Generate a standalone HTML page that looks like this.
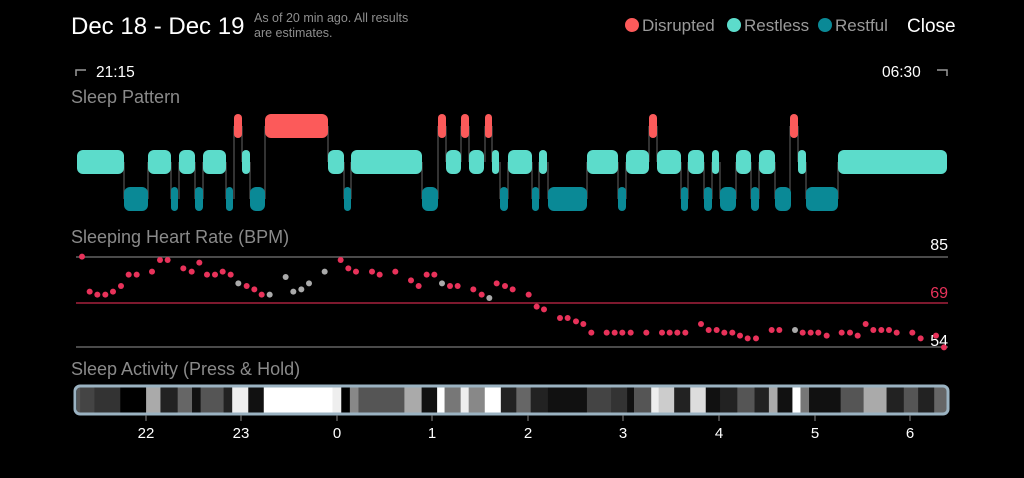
<!DOCTYPE html>
<html><head><meta charset="utf-8"><style>
body{margin:0;background:#000;width:1024px;height:473px;overflow:hidden;font-family:"Liberation Sans",sans-serif}
</style></head><body>
<svg width="1024" height="473" viewBox="0 0 1024 473" xmlns="http://www.w3.org/2000/svg" font-family="Liberation Sans, sans-serif">
<rect width="1024" height="473" fill="#000"/>
<text x="71" y="34" font-size="24" fill="#fff">Dec 18 - Dec 19</text>
<text x="254" y="22" font-size="12.5" fill="#8e8e8e">As of 20 min ago. All results</text>
<text x="254" y="37" font-size="12.5" fill="#8e8e8e">are estimates.</text>
<circle cx="632" cy="25" r="7" fill="#fc5a5a"/><text x="642" y="31" font-size="17" fill="#9a9a9a">Disrupted</text>
<circle cx="734" cy="25" r="7" fill="#5cdccb"/><text x="744" y="31" font-size="17" fill="#9a9a9a">Restless</text>
<circle cx="825" cy="25" r="7" fill="#0a8996"/><text x="835" y="31" font-size="17" fill="#9a9a9a">Restful</text>
<text x="907" y="32" font-size="19" fill="#fff">Close</text>
<path d="M76 76 V70 H86" stroke="#999" stroke-width="1.5" fill="none"/>
<text x="96" y="77" font-size="15.5" fill="#fff">21:15</text>
<text x="882" y="77" font-size="15.5" fill="#fff">06:30</text>
<path d="M937 70 H947 V76" stroke="#999" stroke-width="1.5" fill="none"/>
<text x="71" y="103" font-size="18" fill="#8a8a8a">Sleep Pattern</text>
<text x="71" y="243" font-size="18" fill="#8a8a8a">Sleeping Heart Rate (BPM)</text>
<text x="71" y="375" font-size="18" fill="#8a8a8a">Sleep Activity (Press &amp; Hold)</text>
<g id="sp"></g>
<line x1="76" y1="257" x2="948" y2="257" stroke="#777" stroke-width="1.2"/>
<line x1="76" y1="303" x2="948" y2="303" stroke="#c8284a" stroke-width="1.2"/>
<line x1="76" y1="347" x2="948" y2="347" stroke="#777" stroke-width="1.2"/>
<text x="948" y="250" font-size="16" fill="#fff" text-anchor="end">85</text>
<text x="948" y="298" font-size="16" fill="#e8325a" text-anchor="end">69</text>
<text x="948" y="346" font-size="16" fill="#fff" text-anchor="end">54</text>
<g id="hr"></g>
<g id="act"></g>
<rect x="75" y="386" width="873" height="28" rx="5" fill="none" stroke="#9bb3c2" stroke-width="3"/>
<g font-size="15" fill="#fff" text-anchor="middle" stroke="#888">
<line x1="146" y1="415" x2="146" y2="421"/><text x="146" y="438" stroke="none">22</text>
<line x1="241" y1="415" x2="241" y2="421"/><text x="241" y="438" stroke="none">23</text>
<line x1="337" y1="415" x2="337" y2="421"/><text x="337" y="438" stroke="none">0</text>
<line x1="432" y1="415" x2="432" y2="421"/><text x="432" y="438" stroke="none">1</text>
<line x1="528" y1="415" x2="528" y2="421"/><text x="528" y="438" stroke="none">2</text>
<line x1="623" y1="415" x2="623" y2="421"/><text x="623" y="438" stroke="none">3</text>
<line x1="719" y1="415" x2="719" y2="421"/><text x="719" y="438" stroke="none">4</text>
<line x1="815" y1="415" x2="815" y2="421"/><text x="815" y="438" stroke="none">5</text>
<line x1="910" y1="415" x2="910" y2="421"/><text x="910" y="438" stroke="none">6</text>
</g>
</svg>
<script>
const NS="http://www.w3.org/2000/svg";
function el(p,t,a){const e=document.createElementNS(NS,t);for(const k in a)e.setAttribute(k,a[k]);p.appendChild(e);return e;}
const segs=[[77,124,1],[124,148,2],[148,171,1],[171,178,2],[179,195,1],[195,203,2],[203,226,1],[226,233,2],[234,242,0],[242,250,1],[250,265,2],[265,328,0],[328,344,1],[344,351,2],[351,422,1],[422,438,2],[438,446,0],[446,461,1],[461,469,0],[469,484,1],[485,492,0],[492,499,1],[500,508,2],[508,532,1],[532,539,2],[539,547,1],[548,587,2],[587,618,1],[618,626,2],[626,649,1],[649,657,0],[657,681,1],[681,688,2],[688,704,1],[704,712,2],[712,719,1],[720,736,2],[736,751,1],[751,759,2],[759,775,1],[775,791,2],[790,798,0],[798,806,1],[806,838,2],[838,947,1]];
const ys=[114,150,187],h=24,cols=["#fc5a5a","#5cdccb","#0a8996"];
const sp=document.getElementById("sp");
for(let i=0;i<segs.length-1;i++){const a=segs[i],b=segs[i+1];const y1=ys[a[2]]+h/2,y2=ys[b[2]]+h/2;el(sp,"line",{x1:b[0],x2:b[0],y1:Math.min(y1,y2),y2:Math.max(y1,y2),stroke:"#555","stroke-width":1.2});}
for(const s of segs){const w=s[1]-s[0];el(sp,"rect",{x:s[0],y:ys[s[2]],width:w,height:h,rx:Math.min(6,w/2),fill:cols[s[2]]});}
const R="#e8325a",G="#aaa";
const p1=[[66,50,R],[89,155,R],[112,164,R],[136,164,R],[159,155,R],[183,138,R],[206,104,R],[230,104,R],[276,95,R],[300,60,R],[323,60,R],[370,85,R],[395,95,R],[418,68,R],[441,104,R],[465,104,R],[488,95,R],[512,104,R],[535,130,G],[560,138,R],[583,148,R],[605,164,R],[629,164,G],[677,111,G],[700,155,G],[724,148,G],[747,130,G],[794,95,G],[842,60,R],[865,85,R],[888,95,R],[936,95,R],[959,104,R],[1006,95,R],[1053,121,R],[1076,138,R],[1100,104,R],[1123,104,R],[1146,130,G],[1170,138,R],[1193,138,R],[1240,148,R],[1265,164,R],[1288,174,G],[1310,130,R],[1335,138,R],[1358,148,R]];
const p2=[[86,164],[110,200],[132,208],[180,234],[203,234],[228,244],[250,252],[274,278],[320,278],[344,278],[367,278],[392,278],[439,278],[486,278],[509,278],[532,278],[556,278],[603,252],[626,270],[650,270],[673,278],[697,278],[720,287],[743,295],[768,295],[815,270],[838,270],[885,270,G],[908,278],[932,278],[955,278],[980,287],[1025,278],[1050,278],[1073,287],[1097,252],[1120,270],[1144,270],[1167,270],[1190,278],[1237,278],[1262,295],[1308,287],[1332,322]];
const hr=document.getElementById("hr");
for(const p of p1)el(hr,"circle",{cx:60+p[0]/3,cy:240+p[1]/3,r:3,fill:p[2]});
for(const p of p2)el(hr,"circle",{cx:500+p[0]/3,cy:240+p[1]/3,r:3,fill:p[2]||R});
const st=[[35,"#444"],[60,"#333"],[105,"#000"],[150,"#aaa"],[175,"#222"],[205,"#666"],[230,"#111"],[245,"#555"],[285,"#222"],[300,"#eee"],[328,"#111"],[355,"#fff"],[475,"#eee"],[490,"#000"],[505,"#888"],[520,"#555"],[600,"#aaa"],[630,"#111"],[657,"#fff"],[670,"#777"],[698,"#eee"],[712,"#888"],[740,"#fff"],[768,"#222"],[795,"#666"],[820,"#222"],[850,"#111"],[918,"#444"],[960,"#333"],[988,"#111"],[1000,"#555"],[1030,"#eee"],[1043,"#ccc"],[1070,"#222"],[1098,"#ddd"],[1125,"#111"],[1150,"#222"],[1180,"#555"],[1210,"#222"],[1235,"#aaa"],[1250,"#111"],[1276,"#fff"],[1290,"#777"],[1305,"#111"],[1360,"#555"],[1400,"#aaa"],[1440,"#222"],[1470,"#555"],[1495,"#222"],[1523,"#666"],[1545,null]];
const act=document.getElementById("act");
const mx=p=>Math.min(947,Math.max(77,60+p*0.574));
el(act,"rect",{x:77,y:387,width:870,height:26,fill:"#555"});
for(let i=0;i<st.length-1;i++){const x1=mx(st[i][0]),x2=mx(st[i+1][0]);if(x2>x1)el(act,"rect",{x:x1,y:387,width:x2-x1+0.3,height:26,fill:st[i][1]});}
</script>
</body></html>
